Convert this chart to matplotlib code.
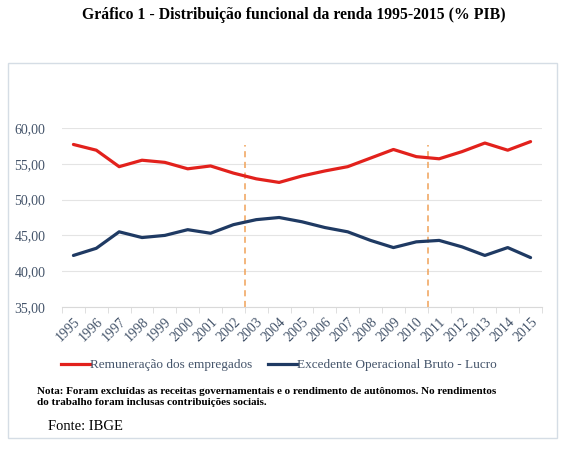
import matplotlib.pyplot as plt
from matplotlib.patches import Rectangle
from matplotlib.lines import Line2D
from matplotlib.ticker import FixedLocator, FuncFormatter

# dados (% do PIB)
anos = [str(a) for a in range(1995, 2016)]
remuneracao = [57.7, 56.9, 54.6, 55.5, 55.2, 54.3, 54.7, 53.7, 52.9, 52.4, 53.3,
               54.0, 54.6, 55.8, 57.0, 56.0, 55.7, 56.7, 57.9, 56.9, 58.1]
excedente = [42.2, 43.2, 45.5, 44.7, 45.0, 45.8, 45.3, 46.5, 47.2, 47.5, 46.9,
             46.1, 45.5, 44.3, 43.3, 44.1, 44.3, 43.4, 42.2, 43.3, 41.9]
quebras = [7.5, 15.5]  # entre 2002/2003 e 2010/2011

W, H = 571, 450
cor_texto = '#44546a'
serif = ['Liberation Serif', 'DejaVu Serif']

fig = plt.figure(figsize=(W / 100, H / 100), dpi=100)
fig.patch.set_facecolor('white')

# moldura do gráfico
fig.patches.append(Rectangle((8 / W, 1 - 438 / H), 549 / W, 375 / H,
                             transform=fig.transFigure, fill=False,
                             edgecolor='#d5dde5', linewidth=1.0))

ax = fig.add_axes([62 / W, 1 - 307 / H, 480 / W, 179 / H])
x = range(len(anos))
ax.plot(x, remuneracao, color='#e2211c', linewidth=2.3, solid_capstyle='round', zorder=3)
ax.plot(x, excedente, color='#1f3a63', linewidth=2.3, solid_capstyle='round', zorder=3)
ax.vlines(quebras, 35, 57.6, colors='#f0a258', linestyles=(0, (4, 3)), linewidth=1.1, zorder=2)

ax.set_xlim(-0.5, len(anos) - 0.5)
ax.set_ylim(35, 60)
ax.set_yticks([35, 40, 45, 50, 55, 60])
ax.yaxis.set_major_formatter(FuncFormatter(lambda v, p: f'{v:.2f}'.replace('.', ',')))
ax.grid(axis='y', color='#e4e4e4', linewidth=0.8)
ax.set_axisbelow(True)
for s in ['top', 'right', 'left']:
    ax.spines[s].set_visible(False)
ax.spines['bottom'].set_color('#d9d9d9')
ax.spines['bottom'].set_linewidth(0.8)

ax.set_xticks(list(x))
ax.set_xticklabels(anos, rotation=45, ha='right', rotation_mode='anchor')
ax.xaxis.set_minor_locator(FixedLocator([i - 0.5 for i in range(len(anos) + 1)]))
ax.tick_params(axis='x', which='major', length=0, pad=6)
ax.tick_params(axis='x', which='minor', length=4, color='#d9d9d9')
ax.tick_params(axis='y', length=0, pad=12)
for lab in ax.get_xticklabels() + ax.get_yticklabels():
    lab.set_family(serif)
    lab.set_fontsize(10)
    lab.set_color(cor_texto)

handles = [Line2D([], [], color='#e2211c', linewidth=2.3),
           Line2D([], [], color='#1f3a63', linewidth=2.3)]
fig.legend(handles, ['Remuneração dos empregados', 'Excedente Operacional Bruto - Lucro'],
           loc='center', bbox_to_anchor=(279 / W, 1 - 365 / H), ncol=2, frameon=False,
           handlelength=2.2, handletextpad=0.0, columnspacing=1.2,
           prop={'family': serif, 'size': 9.5}, labelcolor=cor_texto)

fig.text(294 / W, 1 - 15 / H, 'Gráfico 1 - Distribuição funcional da renda 1995-2015 (% PIB)',
         ha='center', va='center', family=serif, fontweight='bold', fontsize=11.3)
fig.text(37 / W, 1 - 397 / H,
         'Nota: Foram excluídas as receitas governamentais e o rendimento de autônomos. No rendimentos\n'
         'do trabalho foram inclusas contribuições sociais.',
         ha='left', va='center', family=serif, fontweight='bold', fontsize=8, linespacing=1.4)
fig.text(48 / W, 1 - 426 / H, 'Fonte: IBGE', ha='left', va='center', family=serif, fontsize=10.5)

fig.savefig('out.png', dpi=100)
